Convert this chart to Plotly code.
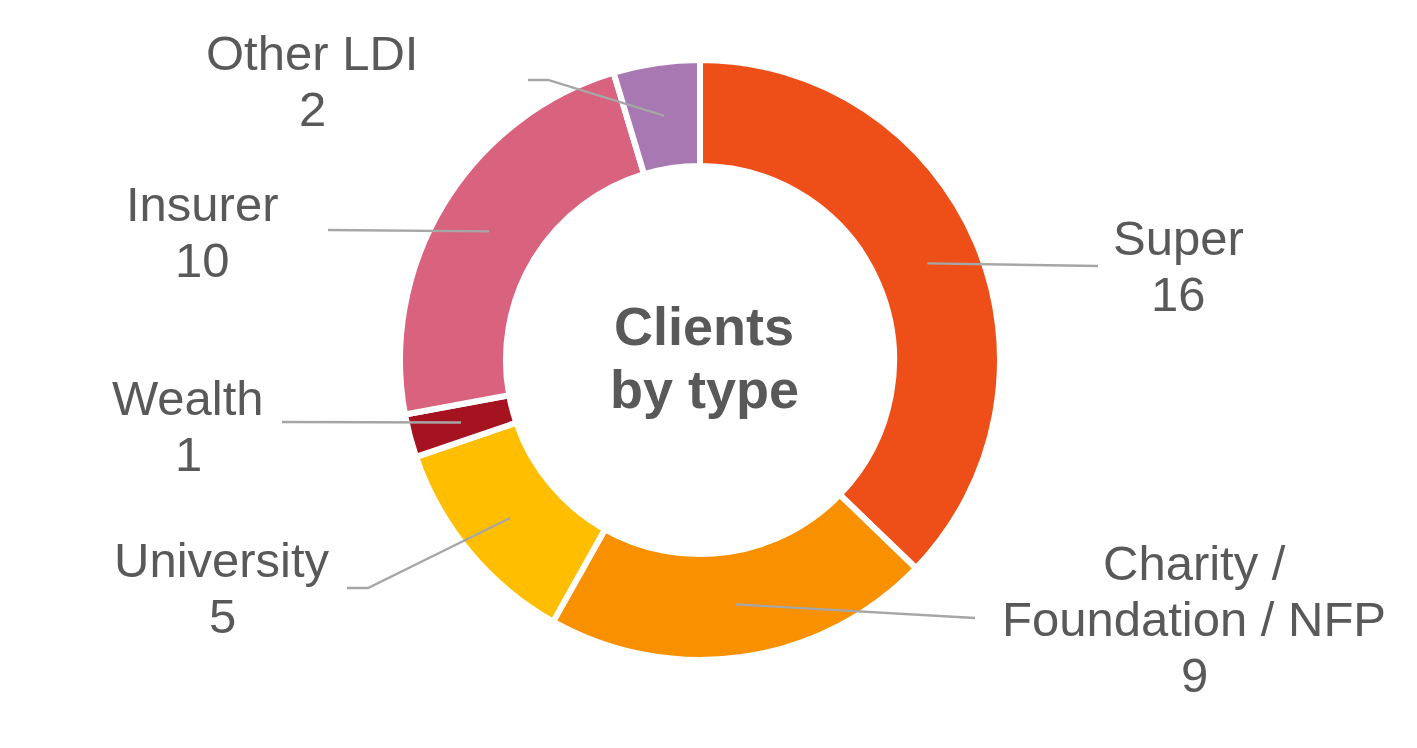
import math
import plotly.graph_objects as go

# ---- data ----
categories = ["Super", "Charity / Foundation / NFP", "University", "Wealth", "Insurer", "Other LDI"]
values = [16, 9, 5, 1, 10, 2]
label_lines = [["Super"], ["Charity /", "Foundation / NFP"], ["University"], ["Wealth"], ["Insurer"], ["Other LDI"]]
center_title = ["Clients", "by type"]

# ---- styles / layout ----
colors = ["#EE4E17", "#F99000", "#FFBF00", "#A51220", "#D9637F", "#A778B2"]
W, H = 1417, 748
CX, CY = 700, 360          # pie centre in pixels
R = 300                    # geometric outer radius (stroke trims ~3px)
SEP = 6                    # white separator width
HOLE = 0.647
TEXT_COLOR = "#595959"
LINE_COLOR = "#A6A6A6"
FS = 49
LINE_H = 56
FONT = "Liberation Sans, Arial, sans-serif"

# label anchor (centre x, first baseline y) and leader path points (pixels)
label_pos = [(1178, 255), (1194, 580), (222, 577), (188, 415), (202, 221), (312, 70)]
leader_paths = [
    [(1098, 266)],
    [(975, 618)],
    [(368, 588), (347, 588)],
    [(282, 422)],
    [(328, 230)],
    [(548, 80), (528, 80)],
]


def px(x):
    return x / W


def py(y):
    return 1 - y / H


fig = go.Figure()
fig.add_trace(go.Pie(
    labels=categories, values=values, sort=False, direction="clockwise", rotation=0,
    hole=HOLE, textinfo="none", hoverinfo="label+value",
    marker=dict(colors=colors, line=dict(color="white", width=SEP)),
    domain=dict(x=[px(CX - R), px(CX + R)], y=[py(CY + R), py(CY - R)]),
    showlegend=False,
))

# leader lines, starting at the middle of each ring segment
total = sum(values)
r_mid = (R - SEP / 2 + R * HOLE + SEP / 2) / 2
shapes = []
cum = 0
for v, path in zip(values, leader_paths):
    ang = 2 * math.pi * (cum + v / 2) / total
    cum += v
    sx = CX + r_mid * math.sin(ang)
    sy = CY - r_mid * math.cos(ang)
    pts = [(sx, sy)] + path
    d = "M " + " L ".join(f"{px(x):.5f},{py(y):.5f}" for x, y in pts)
    shapes.append(dict(type="path", path=d, xref="paper", yref="paper",
                       line=dict(color=LINE_COLOR, width=2.3)))

annotations = []
BASE_OFF = 0.3465  # baseline offset from box middle (in em)
for lines, v, (lx, ly) in zip(label_lines, values, label_pos):
    for i, t in enumerate(lines + [str(v)]):
        by = ly + i * LINE_H
        annotations.append(dict(
            x=px(lx), y=py(by - BASE_OFF * FS), xref="paper", yref="paper",
            text=t, showarrow=False, xanchor="center", yanchor="middle",
            font=dict(family=FONT, size=FS, color=TEXT_COLOR)))

CFS = 54
for i, t in enumerate(center_title):
    by = 345 + i * 63
    annotations.append(dict(
        x=px(704), y=py(by - BASE_OFF * CFS), xref="paper", yref="paper",
        text=f"<b>{t}</b>", showarrow=False, xanchor="center", yanchor="middle",
        font=dict(family=FONT, size=CFS, color=TEXT_COLOR)))

fig.update_layout(
    width=W, height=H, margin=dict(l=0, r=0, t=0, b=0),
    paper_bgcolor="white", plot_bgcolor="white",
    shapes=shapes, annotations=annotations,
)

fig.write_html("out.html", config={"displayModeBar": False},
               post_script="document.body.style.margin='0';document.body.style.overflow='hidden';")
